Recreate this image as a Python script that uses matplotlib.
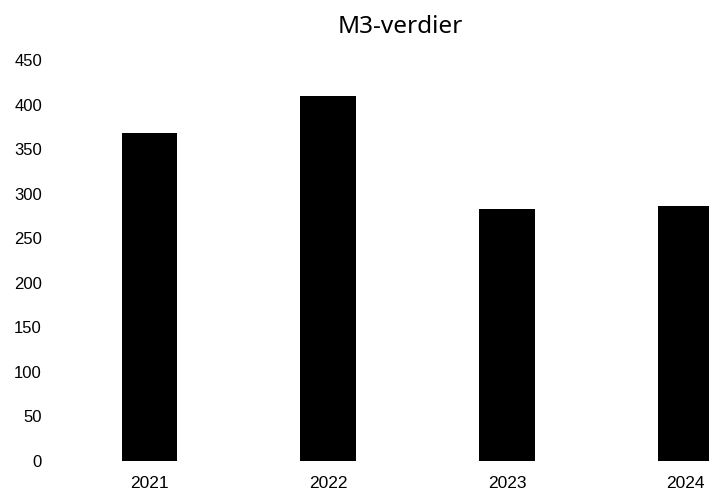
import matplotlib
matplotlib.use("Agg")
import matplotlib.pyplot as plt

years = ["2021", "2022", "2023", "2024"]
values = [368, 410, 283, 286]
yticks = [0, 50, 100, 150, 200, 250, 300, 350, 400, 450]


def main():
    plt.rcParams["font.family"] = ["Liberation Sans", "DejaVu Sans"]
    fig = plt.figure(figsize=(7.09, 4.95), dpi=100)
    ax = fig.add_axes([60 / 709, 34 / 495, 1 - 60 / 709, 401 / 495])

    x = range(len(years))
    ax.bar(x, values, width=0.31, color="black", zorder=2)

    ax.set_xlim(-0.5, 3.13)
    ax.set_ylim(0, 450)
    ax.set_xticks(list(x))
    ax.set_xticklabels(years, fontsize=12.5)
    ax.set_yticks(yticks)
    ax.set_yticklabels([str(v) for v in yticks], fontsize=12)
    ax.tick_params(length=0)
    ax.tick_params(axis="x", pad=11)
    ax.tick_params(axis="y", pad=13)
    for s in ax.spines.values():
        s.set_visible(False)

    fig.text(0.565, 0.945, "M3-verdier", ha="center", va="center",
             fontsize=17.5, family="Noto Sans")

    fig.savefig("out.png", dpi=100)


if __name__ == "__main__":
    main()
